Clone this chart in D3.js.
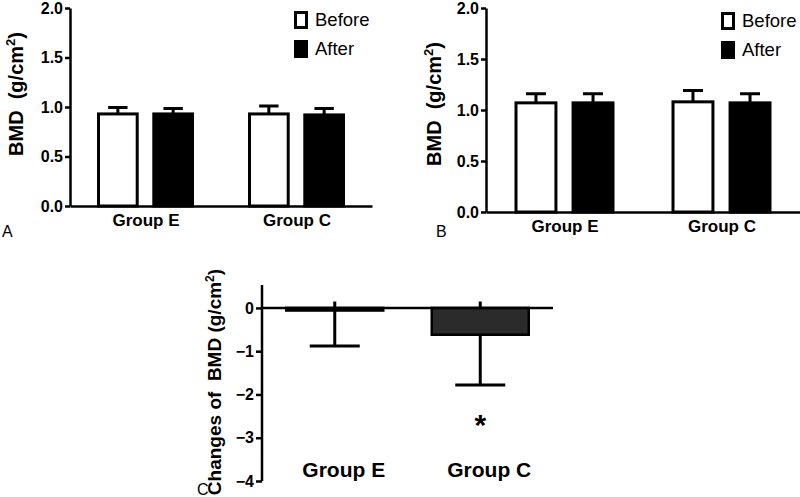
<!DOCTYPE html>
<html>
<head>
<meta charset="utf-8">
<script src="https://cdn.jsdelivr.net/npm/d3@7"></script>
<style>
  body { margin: 0; background: #fff; }
  svg { display: block; font-family: "Liberation Sans", Arial, sans-serif; }
</style>
</head>
<body>
<script>
const groups = ['Group E', 'Group C'];
const series = ['Before', 'After'];

// panel A: BMD before / after
const aBefore = [0.93, 0.93];
const aBeforeErr = [0.065, 0.08];
const aAfter = [0.93, 0.92];
const aAfterErr = [0.055, 0.065];

// panel B
const bBefore = [1.07, 1.08];
const bBeforeErr = [0.09, 0.11];
const bAfter = [1.07, 1.07];
const bAfterErr = [0.09, 0.09];

// panel C: changes of BMD
const cChange = [-0.06, -0.62];
const cErr = [0.82, 1.16];
const cStub = [0.15, 0.15];

const yTicksAB = [0, 0.5, 1, 1.5, 2];
const yTicksC = [0, -1, -2, -3, -4];

const svg = d3.select('body')
  .append('svg')
  .attr('width', 800)
  .attr('height', 497);

const styleAxis = (sel, size) => {
  sel.selectAll('path, line').attr('stroke', '#000').attr('stroke-width', 2.5);
  sel.selectAll('text')
    .attr('fill', '#000')
    .style('font-size', size + 'px')
    .style('font-weight', 'bold')
    .style('font-family', '"Liberation Sans", Arial, sans-serif');
};

const barPanel = (o) => {
  const g = svg.append('g');
  const y = d3.scaleLinear().domain([0, 2]).range([o.y0, o.y1]);
  const xg = d3.scalePoint().domain(groups).range([o.left, o.right]).padding(0.5);
  const xs = d3.scaleBand().domain(series).range([-o.half, o.half]).paddingInner(0.3);

  let rows = [];
  groups.forEach((name, i) => {
    rows.push({ g: name, s: 'Before', v: o.before[i], e: o.beforeErr[i] });
    rows.push({ g: name, s: 'After', v: o.after[i], e: o.afterErr[i] });
  });

  // error bars first, the bar outline sits on top
  const cx = (d) => xg(d.g) + xs(d.s) + xs.bandwidth() / 2;
  g.selectAll('.err')
    .data(rows)
    .enter()
    .append('path')
    .attr('class', 'err')
    .attr('fill', 'none')
    .attr('stroke', '#000')
    .attr('stroke-width', 3)
    .attr('d', (d) => {
      const x = cx(d), w = xs.bandwidth() / 4;
      return `M${x},${y(d.v)}V${y(d.v + d.e)}M${x - w},${y(d.v + d.e)}H${x + w}`;
    });

  g.selectAll('.bar')
    .data(rows)
    .enter()
    .append('rect')
    .attr('class', 'bar')
    .attr('x', (d) => xg(d.g) + xs(d.s))
    .attr('y', (d) => y(d.v))
    .attr('width', xs.bandwidth())
    .attr('height', (d) => y(0) - y(d.v))
    .attr('fill', (d) => d.s === 'Before' ? '#fff' : '#000')
    .attr('stroke', '#000')
    .attr('stroke-width', 3);

  g.append('g')
    .attr('transform', `translate(${o.left},0)`)
    .call(d3.axisLeft(y).tickValues(yTicksAB).tickFormat(d3.format('.1f')).tickSize(5).tickSizeOuter(0).tickPadding(2))
    .call((s) => styleAxis(s, 16));

  g.append('g')
    .attr('transform', `translate(0,${y(0)})`)
    .call(d3.axisBottom(xg).tickSize(0).tickSizeOuter(0).tickPadding(8))
    .call((s) => styleAxis(s, 17));

  // y label
  const lab = g.append('text')
    .attr('transform', `translate(${o.labelX},${o.labelY}) rotate(-90)`)
    .attr('text-anchor', 'middle')
    .style('font-size', '20px')
    .style('font-weight', 'bold');
  lab.append('tspan').text('BMD\u00a0\u00a0(g/cm');
  lab.append('tspan').attr('dy', -8).style('font-size', '13px').text('2');
  lab.append('tspan').attr('dy', 8).text(')');

  // legend
  series.forEach((s, i) => {
    const ly = o.legY + i * 29;
    g.append('rect')
      .attr('x', o.legX + 1.5)
      .attr('y', ly + 1.5)
      .attr('width', 11)
      .attr('height', 15)
      .attr('fill', s === 'Before' ? '#fff' : '#000')
      .attr('stroke', '#000')
      .attr('stroke-width', 3);
    g.append('text')
      .attr('x', o.legX + 21)
      .attr('y', ly + 15)
      .style('font-size', '18.5px')
      .text(s);
  });

  g.append('text')
    .attr('x', o.letterX)
    .attr('y', o.letterY)
    .style('font-size', '16px')
    .text(o.letter);
};

barPanel({
  before: aBefore, beforeErr: aBeforeErr, after: aAfter, afterErr: aAfterErr,
  left: 70, right: 372, y0: 206, y1: 8, half: 47,
  labelX: 23, labelY: 94, legX: 294, legY: 11, letter: 'A', letterX: 2, letterY: 237
});

barPanel({
  before: bBefore, beforeErr: bBeforeErr, after: bAfter, afterErr: bAfterErr,
  left: 486, right: 800, y0: 212, y1: 8, half: 48.5,
  labelX: 441, labelY: 104, legX: 721, legY: 12, letter: 'B', letterX: 436, letterY: 237
});

// panel C
const gc = svg.append('g');
const yC = d3.scaleLinear().domain([-4, 0.53]).range([481, 285]);
const xC = d3.scalePoint().domain(groups).range([262, 553]).padding(0.5);
const barW = 97;

gc.selectAll('.cerr')
  .data(groups)
  .enter()
  .append('path')
  .attr('fill', 'none')
  .attr('stroke', '#000')
  .attr('stroke-width', 3)
  .attr('d', (d, i) => {
    const x = xC(d), lo = yC(cChange[i] - cErr[i]);
    return `M${x},${yC(cStub[i])}V${lo}M${x - 25},${lo}H${x + 25}`;
  });

gc.selectAll('.cbar')
  .data(groups)
  .enter()
  .append('rect')
  .attr('x', (d) => xC(d) - barW / 2)
  .attr('y', yC(0))
  .attr('width', barW)
  .attr('height', (d, i) => yC(cChange[i]) - yC(0))
  .attr('fill', '#2b2b2b')
  .attr('stroke', '#000')
  .attr('stroke-width', 2.5);

gc.append('g')
  .attr('transform', 'translate(262,0)')
  .call(d3.axisLeft(yC).tickValues(yTicksC).tickFormat(d3.format('d')).tickSize(6).tickSizeOuter(0).tickPadding(2))
  .call((s) => styleAxis(s, 16))
  .call((s) => s.select('.domain').attr('d', `M0,${yC(0.53)}V${yC(-4)}`));

gc.append('line')
  .attr('x1', 262).attr('x2', 553)
  .attr('y1', yC(0)).attr('y2', yC(0))
  .attr('stroke', '#000')
  .attr('stroke-width', 2.5);

gc.selectAll('.clab')
  .data(groups)
  .enter()
  .append('text')
  .attr('x', (d) => xC(d) + 9)
  .attr('y', 477)
  .attr('text-anchor', 'middle')
  .style('font-size', '21px')
  .style('font-weight', 'bold')
  .text((d) => d);

gc.append('text')
  .attr('x', xC('Group C'))
  .attr('y', 435)
  .attr('text-anchor', 'middle')
  .style('font-size', '30px')
  .style('font-weight', 'bold')
  .text('*');

const labC = gc.append('text')
  .attr('transform', 'translate(221,382) rotate(-90)')
  .attr('text-anchor', 'middle')
  .style('font-size', '19px')
  .style('font-weight', 'bold');
labC.append('tspan').text('Changes of\u00a0\u00a0BMD (g/cm');
labC.append('tspan').attr('dy', -7).style('font-size', '12px').text('2');
labC.append('tspan').attr('dy', 7).text(')');

gc.append('text')
  .attr('x', 197)
  .attr('y', 495)
  .style('font-size', '16px')
  .text('C');
</script>
</body>
</html>
